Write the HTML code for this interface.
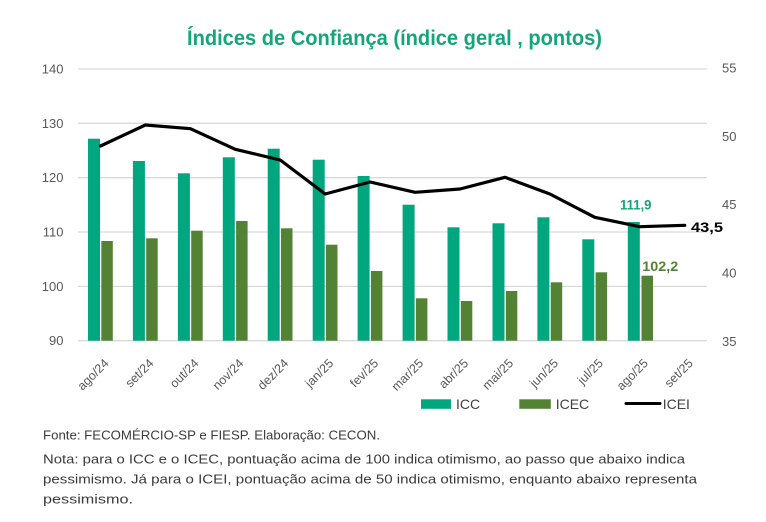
<!DOCTYPE html>
<html>
<head>
<meta charset="utf-8">
<style>
html,body{margin:0;padding:0;background:#fff;}
svg{display:block;}
</style>
</head>
<body>
<svg width="766" height="522" viewBox="0 0 766 522" xmlns="http://www.w3.org/2000/svg" font-family="'Liberation Sans', sans-serif">
<rect width="766" height="522" fill="#fff"/>
<!-- Title -->
<text x="187" y="45" font-size="21" font-weight="bold" fill="#12A67A" textLength="415" lengthAdjust="spacingAndGlyphs">Índices de Confiança (índice geral , pontos)</text>

<!-- gridlines -->
<g stroke="#D9D9D9" stroke-width="1.3">
<line x1="78" y1="69" x2="707" y2="69"/>
<line x1="78" y1="123.3" x2="707" y2="123.3"/>
<line x1="78" y1="177.7" x2="707" y2="177.7"/>
<line x1="78" y1="232" x2="707" y2="232"/>
<line x1="78" y1="286.4" x2="707" y2="286.4"/>
<line x1="78" y1="340.7" x2="707" y2="340.7"/>
</g>

<!-- left axis labels -->
<g font-size="13" fill="#595959" text-anchor="end">
<text x="63.5" y="73.5">140</text>
<text x="63.5" y="127.8">130</text>
<text x="63.5" y="182.2">120</text>
<text x="63.5" y="236.5">110</text>
<text x="63.5" y="290.9">100</text>
<text x="63.5" y="345.2">90</text>
</g>
<!-- right axis labels -->
<g font-size="13" fill="#595959">
<text x="722" y="72.5">55</text>
<text x="722" y="141">50</text>
<text x="722" y="209">45</text>
<text x="722" y="277.5">40</text>
<text x="722" y="346">35</text>
</g>

<!-- ICC bars -->
<g fill="#00A67D">
<rect x="88" y="138.7" width="12" height="202"/>
<rect x="132.9" y="161" width="12" height="179.7"/>
<rect x="177.9" y="173.3" width="12" height="167.4"/>
<rect x="222.8" y="157.3" width="12" height="183.4"/>
<rect x="267.7" y="148.7" width="12" height="192"/>
<rect x="312.7" y="159.7" width="12" height="181"/>
<rect x="357.6" y="176" width="12" height="164.7"/>
<rect x="402.6" y="204.7" width="12" height="136"/>
<rect x="447.5" y="227.3" width="12" height="113.4"/>
<rect x="492.5" y="223.3" width="12" height="117.4"/>
<rect x="537.4" y="217.3" width="12" height="123.4"/>
<rect x="582.3" y="239.3" width="12" height="101.4"/>
<rect x="627.8" y="222" width="12" height="118.7"/>
</g>
<!-- ICEC bars -->
<g fill="#548235">
<rect x="101.3" y="241" width="11.5" height="99.7"/>
<rect x="146.2" y="238.3" width="11.5" height="102.4"/>
<rect x="191.2" y="230.7" width="11.5" height="110"/>
<rect x="236.1" y="221" width="11.5" height="119.7"/>
<rect x="281" y="228.3" width="11.5" height="112.4"/>
<rect x="326" y="244.7" width="11.5" height="96"/>
<rect x="370.9" y="271" width="11.5" height="69.7"/>
<rect x="415.9" y="298.3" width="11.5" height="42.4"/>
<rect x="460.8" y="301" width="11.5" height="39.7"/>
<rect x="505.8" y="291" width="11.5" height="49.7"/>
<rect x="550.7" y="282.3" width="11.5" height="58.4"/>
<rect x="595.6" y="272.3" width="11.5" height="68.4"/>
<rect x="641.5" y="275.7" width="11.5" height="65"/>
</g>

<!-- ICEI line -->
<polyline fill="none" stroke="#000" stroke-width="3.2" stroke-linejoin="round" stroke-linecap="round"
points="100.5,146 145.4,125 190.4,128.7 235.3,149.3 280.2,160 325.2,194 370.1,182 415.1,192.3 460,189 505,177.3 549.9,194 594.8,217.3 639.8,226.7 684.7,225.3"/>

<!-- data labels -->
<text x="620" y="209.5" font-size="14" font-weight="bold" fill="#12A67A" textLength="31.5" lengthAdjust="spacingAndGlyphs">111,9</text>
<text x="642.3" y="270.8" font-size="14" font-weight="bold" fill="#548235" textLength="36" lengthAdjust="spacingAndGlyphs">102,2</text>
<text x="691" y="231.8" font-size="14" font-weight="bold" fill="#000" textLength="32" lengthAdjust="spacingAndGlyphs">43,5</text>

<!-- x labels -->
<g font-size="12.5" fill="#595959" text-anchor="end">
<text transform="translate(109.5,364) rotate(-45)">ago/24</text>
<text transform="translate(154.4,364) rotate(-45)">set/24</text>
<text transform="translate(199.4,364) rotate(-45)">out/24</text>
<text transform="translate(244.3,364) rotate(-45)">nov/24</text>
<text transform="translate(289.2,364) rotate(-45)">dez/24</text>
<text transform="translate(334.2,364) rotate(-45)">jan/25</text>
<text transform="translate(379.1,364) rotate(-45)">fev/25</text>
<text transform="translate(424.1,364) rotate(-45)">mar/25</text>
<text transform="translate(469,364) rotate(-45)">abr/25</text>
<text transform="translate(514,364) rotate(-45)">mai/25</text>
<text transform="translate(558.9,364) rotate(-45)">jun/25</text>
<text transform="translate(603.8,364) rotate(-45)">jul/25</text>
<text transform="translate(648.8,364) rotate(-45)">ago/25</text>
<text transform="translate(693.7,364) rotate(-45)">set/25</text>
</g>

<!-- legend -->
<rect x="421" y="399.3" width="30" height="9.5" fill="#00A67D"/>
<text x="456" y="408.8" font-size="14" fill="#404040">ICC</text>
<rect x="519.3" y="399.3" width="31.5" height="9.5" fill="#548235"/>
<text x="555.7" y="408.8" font-size="14" fill="#404040">ICEC</text>
<line x1="626" y1="403.5" x2="660" y2="403.5" stroke="#000" stroke-width="3" stroke-linecap="round"/>
<text x="662.7" y="408.8" font-size="14" fill="#404040">ICEI</text>

<!-- footer -->
<g font-size="13" fill="#3a3a3a">
<text x="43" y="439.5" textLength="337" lengthAdjust="spacingAndGlyphs">Fonte: FECOMÉRCIO-SP e FIESP. Elaboração: CECON.</text>
<text x="43" y="463.5" textLength="642" lengthAdjust="spacingAndGlyphs">Nota: para o ICC e o ICEC, pontuação acima de 100 indica otimismo, ao passo que abaixo indica</text>
<text x="43" y="483.5" textLength="654" lengthAdjust="spacingAndGlyphs">pessimismo. Já para o ICEI, pontuação acima de 50 indica otimismo, enquanto abaixo representa</text>
<text x="43" y="503.5" textLength="90" lengthAdjust="spacingAndGlyphs">pessimismo.</text>
</g>
</svg>
</body>
</html>
